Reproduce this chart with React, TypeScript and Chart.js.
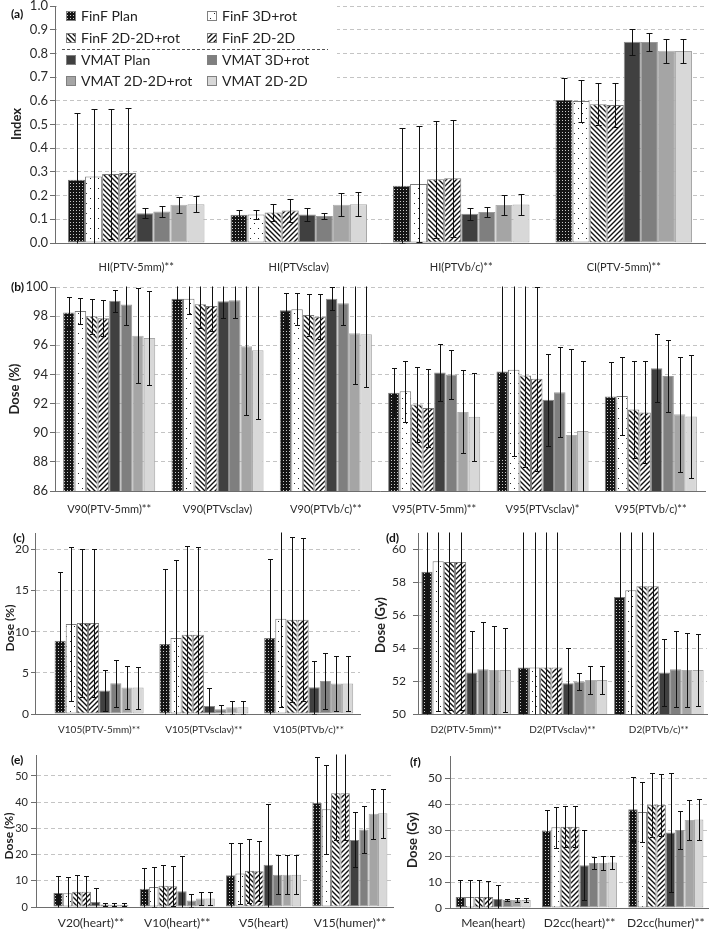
import React, { useEffect, useRef } from 'react';
import { Chart, registerables } from 'chart.js';

Chart.register(...registerables);
Chart.defaults.font.family = "Lato, 'DejaVu Sans', sans-serif";
Chart.defaults.color = '#333';

// ---------------- DATA ----------------
const seriesNames = [
  'FinF Plan', 'FinF 3D+rot', 'FinF 2D-2D+rot', 'FinF 2D-2D',
  'VMAT Plan', 'VMAT 3D+rot', 'VMAT 2D-2D+rot', 'VMAT 2D-2D',
];

// (a) Index
const catsA = ['HI(PTV-5mm)**', 'HI(PTVsclav)', 'HI(PTVb/c)**', 'CI(PTV-5mm)**'];
const meansA = [
  [0.267, 0.119, 0.242, 0.603],
  [0.281, 0.120, 0.249, 0.599],
  [0.291, 0.129, 0.269, 0.585],
  [0.295, 0.137, 0.273, 0.582],
  [0.126, 0.120, 0.123, 0.849],
  [0.133, 0.114, 0.131, 0.848],
  [0.161, 0.161, 0.160, 0.811],
  [0.164, 0.164, 0.162, 0.810],
];
const sdsA = [
  [0.283, 0.022, 0.243, 0.092],
  [0.285, 0.020, 0.246, 0.088],
  [0.275, 0.035, 0.246, 0.088],
  [0.275, 0.050, 0.246, 0.091],
  [0.021, 0.027, 0.024, 0.054],
  [0.022, 0.014, 0.021, 0.037],
  [0.033, 0.048, 0.042, 0.051],
  [0.035, 0.050, 0.044, 0.050],
];
const yTicksA = [0, 0.1, 0.2, 0.3, 0.4, 0.5, 0.6, 0.7, 0.8, 0.9, 1.0];

// (b) Dose (%)
const catsB = ['V90(PTV-5mm)**', 'V90(PTVsclav)', 'V90(PTVb/c)**', 'V95(PTV-5mm)**', 'V95(PTVsclav)*', 'V95(PTVb/c)**'];
const meansB = [
  [98.25, 99.2, 98.41, 92.75, 94.2, 92.48],
  [98.36, 99.2, 98.48, 92.84, 94.32, 92.52],
  [98.0, 98.82, 98.07, 91.93, 93.93, 91.59],
  [97.86, 98.7, 97.95, 91.7, 93.7, 91.39],
  [99.05, 99.02, 99.2, 94.14, 92.27, 94.43],
  [98.8, 99.09, 98.89, 94.0, 92.77, 93.89],
  [96.66, 95.93, 96.82, 91.43, 89.84, 91.27],
  [96.5, 95.66, 96.75, 91.09, 90.11, 91.11],
];
const sdsB = [
  [1.08, 1.13, 1.2, 1.7, 5.95, 2.35],
  [0.9, 1.06, 1.1, 2.08, 5.95, 2.7],
  [1.2, 1.66, 1.45, 2.6, 6.3, 3.35],
  [1.25, 1.7, 1.55, 2.68, 6.3, 3.5],
  [0.77, 1.12, 0.8, 1.93, 3.15, 2.33],
  [1.44, 1.2, 1.5, 1.7, 3.08, 2.45],
  [3.28, 4.68, 3.5, 2.84, 5.9, 3.95],
  [3.2, 4.75, 3.6, 3.0, 4.8, 4.2],
];
const yTicksB = [86, 88, 90, 92, 94, 96, 98, 100];

// (c) Dose (%)
const catsC = ['V105(PTV-5mm)**', 'V105(PTVsclav)**', 'V105(PTVb/c)**'];
const meansC = [
  [8.9, 8.5, 9.23],
  [10.93, 9.23, 11.59],
  [11.06, 9.63, 11.46],
  [11.06, 9.63, 11.46],
  [2.85, 0.98, 3.25],
  [3.74, 0.57, 4.02],
  [3.21, 0.81, 3.7],
  [3.21, 0.81, 3.7],
];
const sdsC = [
  [8.34, 9.14, 9.63],
  [9.4, 9.43, 10.7],
  [9.0, 10.8, 10.0],
  [8.95, 10.65, 9.9],
  [2.5, 2.23, 3.2],
  [2.85, 0.53, 3.45],
  [2.6, 0.82, 3.3],
  [2.55, 0.82, 3.3],
];
const yTicksC = [0, 5, 10, 15, 20];

// (d) Dose (Gy)
const catsD = ['D2(PTV-5mm)**', 'D2(PTVsclav)**', 'D2(PTVb/c)**'];
const meansD = [
  [58.64, 52.83, 57.11],
  [59.29, 52.83, 57.52],
  [59.23, 52.83, 57.76],
  [59.23, 52.83, 57.76],
  [52.52, 51.87, 52.52],
  [52.72, 51.97, 52.72],
  [52.68, 52.07, 52.68],
  [52.68, 52.07, 52.68],
];
const sdsD = [
  [9.0, 9.5, 9.0],
  [9.1, 9.5, 9.0],
  [9.0, 9.5, 9.0],
  [9.0, 9.5, 9.0],
  [2.5, 2.17, 2.05],
  [2.9, 0.5, 2.3],
  [2.65, 0.85, 2.25],
  [2.55, 0.83, 2.2],
];
const yTicksD = [50, 52, 54, 56, 58, 60];

// (e) Dose (%)
const catsE = ['V20(heart)**', 'V10(heart)**', 'V5(heart)', 'V15(humer)**'];
const meansE = [
  [5.3, 7.0, 12.1, 39.8],
  [5.2, 7.6, 12.8, 37.3],
  [5.8, 8.1, 13.8, 43.4],
  [5.8, 7.9, 13.6, 43.4],
  [1.9, 6.0, 16.1, 25.6],
  [1.0, 2.5, 12.3, 29.6],
  [0.9, 3.2, 12.3, 35.6],
  [0.9, 3.2, 12.3, 35.8],
];
const sdsE = [
  [6.4, 7.85, 12.3, 17.6],
  [6.1, 7.5, 11.6, 16.9],
  [6.3, 8.0, 12.1, 17.8],
  [6.2, 7.6, 11.4, 17.8],
  [5.3, 13.3, 23.1, 10.5],
  [0.5, 2.45, 7.4, 9.1],
  [0.6, 2.4, 7.4, 9.5],
  [0.6, 2.4, 7.5, 9.4],
];
const yTicksE = [0, 10, 20, 30, 40, 50];

// (f) Dose (Gy)
const catsF = ['Mean(heart)', 'D2cc(heart)**', 'D2cc(humer)**'];
const meansF = [
  [4.25, 29.6, 38.0],
  [4.25, 31.1, 36.9],
  [4.25, 31.3, 39.7],
  [4.25, 31.3, 39.7],
  [3.5, 16.5, 29.1],
  [3.2, 17.3, 30.0],
  [3.1, 17.3, 33.9],
  [3.1, 17.5, 34.1],
];
const sdsF = [
  [6.7, 8.2, 12.3],
  [6.4, 7.9, 11.5],
  [6.4, 8.0, 12.2],
  [6.2, 7.8, 12.0],
  [5.5, 13.5, 22.9],
  [0.45, 2.35, 7.4],
  [0.75, 2.6, 7.7],
  [0.75, 2.6, 7.9],
];
const yTicksF = [0, 10, 20, 30, 40, 50];

// ---------------- LAYOUT ----------------
type Panel = {
  id: string; letter: string; yTitle: string;
  cats: string[]; means: number[][]; sds: number[][]; yTicks: number[];
  yMin: number; yMax: number; decimals: number;
  box: { left: number; top: number; width: number; height: number };
  area: { l: number; r: number; t: number; b: number };
  xMin: number; xMax: number; catPct: number;
  tickFont: number; tickLen: number; tickPad: number; catFont: number; catPad: number;
  letterPos: [number, number]; titlePos: [number, number]; titleFont: number;
  capHalf: number; legend?: boolean;
};

const panels: Panel[] = [
  {
    id: 'a', letter: '(a)', yTitle: 'Index', cats: catsA, means: meansA, sds: sdsA, yTicks: yTicksA,
    yMin: 0, yMax: 1, decimals: 1,
    box: { left: 0, top: -4, width: 709, height: 286 }, area: { l: 55, r: 705, t: 6, b: 243 },
    xMin: -0.5, xMax: 3.5, catPct: 0.84,
    tickFont: 13, tickLen: 5, tickPad: 2, catFont: 11, catPad: 18,
    letterPos: [11, 14], titlePos: [17, 124], titleFont: 13, capHalf: 3, legend: true,
  },
  {
    id: 'b', letter: '(b)', yTitle: 'Dose (%)', cats: catsB, means: meansB, sds: sdsB, yTicks: yTicksB,
    yMin: 86, yMax: 100, decimals: 0,
    box: { left: 0, top: 276, width: 709, height: 250 }, area: { l: 55, r: 705, t: 287, b: 491 },
    xMin: -0.5, xMax: 5.5, catPct: 0.85,
    tickFont: 13, tickLen: 5, tickPad: 2, catFont: 11, catPad: 12,
    letterPos: [11, 287], titlePos: [15, 389], titleFont: 13, capHalf: 2.5,
  },
  {
    id: 'c', letter: '(c)', yTitle: 'Dose (%)', cats: catsC, means: meansC, sds: sdsC, yTicks: yTicksC,
    yMin: 0, yMax: 22, decimals: 0,
    box: { left: 0, top: 524, width: 366, height: 220 }, area: { l: 35, r: 360, t: 533, b: 714 },
    xMin: -0.612, xMax: 2.49, catPct: 0.85,
    tickFont: 12, tickLen: 4, tickPad: 2, catFont: 10, catPad: 10,
    letterPos: [13, 538], titlePos: [10, 628], titleFont: 12, capHalf: 2.5,
  },
  {
    id: 'd', letter: '(d)', yTitle: 'Dose (Gy)', cats: catsD, means: meansD, sds: sdsD, yTicks: yTicksD,
    yMin: 50, yMax: 61, decimals: 0,
    box: { left: 366, top: 524, width: 343, height: 220 }, area: { l: 418, r: 707, t: 533, b: 714 },
    xMin: -0.5, xMax: 2.5, catPct: 0.93,
    tickFont: 12, tickLen: 5, tickPad: 7, catFont: 10, catPad: 10,
    letterPos: [386, 538], titlePos: [381, 625], titleFont: 13, capHalf: 2.5,
  },
  {
    id: 'e', letter: '(e)', yTitle: 'Dose (%)', cats: catsE, means: meansE, sds: sdsE, yTicks: yTicksE,
    yMin: 0, yMax: 58, decimals: 0,
    box: { left: 0, top: 744, width: 400, height: 187 }, area: { l: 36, r: 393, t: 755, b: 907 },
    xMin: -0.637, xMax: 3.5, catPct: 0.87,
    tickFont: 11, tickLen: 5, tickPad: 3, catFont: 12, catPad: 9,
    letterPos: [11, 760], titlePos: [9, 836], titleFont: 12, capHalf: 2.5,
  },
  {
    id: 'f', letter: '(f)', yTitle: 'Dose (Gy)', cats: catsF, means: meansF, sds: sdsF, yTicks: yTicksF,
    yMin: 0, yMax: 58.5, decimals: 0,
    box: { left: 400, top: 744, width: 309, height: 187 }, area: { l: 450, r: 709, t: 756, b: 908 },
    xMin: -0.5, xMax: 2.5, catPct: 0.87,
    tickFont: 12, tickLen: 5, tickPad: 3, catFont: 12, catPad: 8,
    letterPos: [410, 762], titlePos: [413, 840], titleFont: 13, capHalf: 2.5,
  },
];

// ---------------- FILLS ----------------
function makeFills(ctx: CanvasRenderingContext2D): (string | CanvasPattern)[] {
  const tile = (w: number, h: number, draw: (c: CanvasRenderingContext2D) => void) => {
    const cv = document.createElement('canvas');
    cv.width = w; cv.height = h;
    const c = cv.getContext('2d')!;
    draw(c);
    return ctx.createPattern(cv, 'repeat')!;
  };
  const plan = tile(3, 3, (c) => {
    c.fillStyle = '#151515'; c.fillRect(0, 0, 3, 3);
    c.fillStyle = '#c8c8c8'; c.fillRect(1, 1, 1, 1);
  });
  const dots = tile(8, 10, (c) => {
    c.fillStyle = '#ffffff'; c.fillRect(0, 0, 8, 10);
    c.fillStyle = '#222'; c.fillRect(2, 2, 1, 1); c.fillRect(6, 7, 1, 1);
  });
  const back = tile(5, 5, (c) => {
    c.fillStyle = '#ffffff'; c.fillRect(0, 0, 5, 5);
    c.strokeStyle = '#111'; c.lineWidth = 1.4; c.beginPath();
    c.moveTo(-1, -1); c.lineTo(6, 6);
    c.moveTo(-1, 4); c.lineTo(1, 6);
    c.moveTo(4, -1); c.lineTo(6, 1);
    c.stroke();
  });
  const fwd = tile(5, 5, (c) => {
    c.fillStyle = '#ffffff'; c.fillRect(0, 0, 5, 5);
    c.strokeStyle = '#111'; c.lineWidth = 1.4; c.beginPath();
    c.moveTo(-1, 6); c.lineTo(6, -1);
    c.moveTo(-1, 1); c.lineTo(1, -1);
    c.moveTo(4, 6); c.lineTo(6, 4);
    c.stroke();
  });
  return [plan, dots, back, fwd, '#404040', '#7f7f7f', '#a5a5a5', '#d8d8d8'];
}

const borderCols = ['#7a7a7a', '#7a7a7a', '#7a7a7a', '#7a7a7a', '#8a8a8a', '#9a9a9a', '#b0b0b0', '#a8a8a8'];

// ---------------- PLUGINS ----------------
function errorBarPlugin(p: Panel) {
  return {
    id: 'errbars' + p.id,
    afterDatasetsDraw(chart: any) {
      const { ctx, chartArea: a, scales } = chart;
      const ys = scales.y;
      ctx.save();
      ctx.beginPath();
      ctx.rect(a.left, a.top - 0.5, a.right - a.left, a.bottom - a.top + 1);
      ctx.clip();
      ctx.strokeStyle = '#111';
      ctx.lineWidth = 1;
      chart.data.datasets.forEach((ds: any, i: number) => {
        const meta = chart.getDatasetMeta(i);
        meta.data.forEach((bar: any, j: number) => {
          const m = ds.data[j].y;
          const sd = p.sds[i][j];
          const x = Math.round(bar.x) + 0.5;
          const yt = Math.round(ys.getPixelForValue(m + sd)) + 0.5;
          const yb = Math.round(ys.getPixelForValue(m - sd)) + 0.5;
          ctx.beginPath();
          ctx.moveTo(x, yt); ctx.lineTo(x, yb);
          ctx.moveTo(x - p.capHalf, yt); ctx.lineTo(x + p.capHalf, yt);
          ctx.moveTo(x - p.capHalf, yb); ctx.lineTo(x + p.capHalf, yb);
          ctx.stroke();
        });
      });
      ctx.restore();
    },
  };
}

function decorPlugin(p: Panel, fills: (string | CanvasPattern)[]) {
  return {
    id: 'decor' + p.id,
    afterDraw(chart: any) {
      const ctx: CanvasRenderingContext2D = chart.ctx;
      const ox = p.box.left, oy = p.box.top;
      ctx.save();
      ctx.fillStyle = '#111';
      ctx.font = "bold 12px Lato, 'DejaVu Sans', sans-serif";
      ctx.textAlign = 'left';
      ctx.textBaseline = 'middle';
      ctx.fillText(p.letter, p.letterPos[0] - ox, p.letterPos[1] - oy);
      ctx.save();
      ctx.translate(p.titlePos[0] - ox, p.titlePos[1] - oy);
      ctx.rotate(-Math.PI / 2);
      ctx.font = `bold ${p.titleFont}px Lato, 'DejaVu Sans', sans-serif`;
      ctx.textAlign = 'center';
      ctx.textBaseline = 'middle';
      ctx.fillStyle = '#222';
      ctx.fillText(p.yTitle, 0, 0);
      ctx.restore();
      if (p.legend) {
        ctx.fillStyle = '#ffffff';
        ctx.fillRect(57 - ox, 0 - oy, 280, 93);
        const rowsY = [16, 38, 60, 81];
        const colIcon = [66, 207];
        const colText = [81, 222];
        ctx.font = "14px Lato, 'DejaVu Sans', sans-serif";
        ctx.textBaseline = 'middle';
        ctx.textAlign = 'left';
        seriesNames.forEach((name, i) => {
          const r = Math.floor(i / 2), c = i % 2;
          const y = rowsY[r] - oy;
          const ix = colIcon[c] - ox;
          ctx.fillStyle = fills[i] as any;
          ctx.fillRect(ix, Math.round(y - 5), 10, 10);
          ctx.strokeStyle = '#808080';
          ctx.lineWidth = 1;
          ctx.strokeRect(ix + 0.5, Math.round(y - 5) + 0.5, 9, 9);
          ctx.fillStyle = '#222';
          ctx.fillText(name, colText[c] - ox, y + 0.5);
        });
        ctx.strokeStyle = '#555';
        ctx.setLineDash([3, 2]);
        ctx.beginPath();
        ctx.moveTo(62 - ox, 49.5 - oy);
        ctx.lineTo(328 - ox, 49.5 - oy);
        ctx.stroke();
        ctx.setLineDash([]);
      }
      ctx.restore();
    },
  };
}

// ---------------- COMPONENTS ----------------
function ChartPanel({ p }: { p: Panel }) {
  const ref = useRef<HTMLCanvasElement>(null);
  useEffect(() => {
    const canvas = ref.current!;
    const ctx = canvas.getContext('2d')!;
    const fills = makeFills(ctx);
    const { left, top, width, height } = p.box;
    const padTop = p.area.t - top;
    const padRight = left + width - p.area.r;
    const yW = p.area.l - left;
    const xH = top + height - p.area.b;
    const chart = new Chart(canvas, {
      type: 'bar',
      data: {
        datasets: seriesNames.map((name, i) => ({
          label: name,
          data: p.cats.map((_, j) => ({ x: j, y: p.means[i][j] })),
          backgroundColor: fills[i] as any,
          borderColor: borderCols[i],
          borderWidth: 1,
          borderSkipped: false,
          categoryPercentage: p.catPct,
          barPercentage: 1,
        })),
      },
      options: {
        responsive: false,
        maintainAspectRatio: false,
        animation: false,
        devicePixelRatio: 1,
        events: [],
        layout: { padding: { left: 0, top: padTop, right: padRight, bottom: 0 } },
        plugins: { legend: { display: false }, tooltip: { enabled: false }, title: { display: false } },
        scales: {
          x: {
            type: 'linear',
            min: p.xMin,
            max: p.xMax,
            offset: false,
            grid: { display: false, drawTicks: false, offset: false },
            border: { display: true, color: '#6e6e6e', width: 1 },
            ticks: {
              autoSkip: false,
              maxRotation: 0,
              minRotation: 0,
              padding: p.catPad,
              color: '#2a2a2a',
              font: { size: p.catFont },
              callback: (v: any) => p.cats[v] ?? '',
            },
            afterBuildTicks: (s: any) => { s.ticks = p.cats.map((_, i) => ({ value: i })); },
            afterFit: (s: any) => { s.height = xH; s.paddingLeft = 0; s.paddingRight = 0; },
          },
          y: {
            type: 'linear',
            min: p.yMin,
            max: p.yMax,
            beginAtZero: false,
            grid: { color: '#c4c4c4', lineWidth: 1, drawTicks: true, tickLength: p.tickLen, tickColor: '#6e6e6e', tickBorderDash: [] },
            border: { display: true, color: '#6e6e6e', width: 1, dash: [4, 3] },
            ticks: {
              padding: p.tickPad,
              color: '#2a2a2a',
              font: { size: p.tickFont },
              callback: (v: any) => Number(v).toFixed(p.decimals),
            },
            afterBuildTicks: (s: any) => { s.ticks = p.yTicks.map((v) => ({ value: v })); },
            afterFit: (s: any) => { s.width = yW; s.paddingTop = 0; s.paddingBottom = 0; },
          },
        },
      } as any,
      plugins: [errorBarPlugin(p), decorPlugin(p, fills)],
    });
    return () => chart.destroy();
  }, [p]);
  return (
    <canvas
      ref={ref}
      width={p.box.width}
      height={p.box.height}
      style={{ position: 'absolute', left: p.box.left, top: p.box.top, width: p.box.width, height: p.box.height }}
    />
  );
}

export default function App() {
  return (
    <div style={{ position: 'absolute', left: 0, top: 0, width: 709, height: 931, background: '#ffffff', overflow: 'hidden' }}>
      {panels.map((p) => (
        <ChartPanel key={p.id} p={p} />
      ))}
    </div>
  );
}
